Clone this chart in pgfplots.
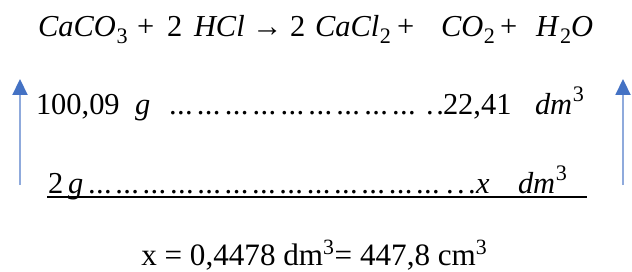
\documentclass[border=0pt]{standalone}
\usepackage{pgfplots}
\pgfplotsset{compat=1.18}
\usetikzlibrary{arrows.meta}
\usepackage{fontspec}
\setmainfont{Liberation Serif}
\definecolor{lineblue}{RGB}{143,170,220}
\definecolor{headblue}{RGB}{68,114,196}
\newlength\pxu \setlength\pxu{0.01in}
\newcommand\eqf{\fontsize{22}{26}\selectfont}
\newcommand\resf{\fontsize{22.5}{26}\selectfont}
\newcommand\grp{.\kern0.3pt.\kern0.3pt.}
\newcommand\chsub[1]{\kern0.5pt\raisebox{-5pt}{\fontsize{16}{16}\selectfont #1}}
\newcommand\chsup[1]{\kern0.5pt\raisebox{9pt}{\fontsize{16}{16}\selectfont #1}}
\tikzset{t/.style={inner sep=0pt,outer sep=0pt,anchor=base west,font=\eqf}}
\begin{document}
\begin{tikzpicture}
\begin{axis}[width=6.32in,height=2.72in,scale only axis,hide axis,
  xmin=0,xmax=632,ymin=0,ymax=272,y dir=reverse,clip=false]
% frame that fixes the picture's extent (invisible)
\addplot[draw=none,forget plot] coordinates {(0,0) (632,0) (632,272) (0,272) (0,0)};
% arrows
\addplot[draw=lineblue,line width=1.5pt,-{Triangle[length=11.5pt,width=10.8pt,color=headblue]}]
  coordinates {(20,185) (20,79)};
\addplot[draw=lineblue,line width=1.5pt,-{Triangle[length=11.5pt,width=10.8pt,color=headblue]}]
  coordinates {(623,185) (623,79)};
% underline
\addplot[black,line width=1.4pt] coordinates {(47,197) (587,197)};
% line 1
\node[t] at (axis cs:38,37) {\textit{CaCO}\chsub{3}};
\node[t] at (axis cs:137,37) {+};
\node[t] at (axis cs:167,37) {2};
\node[t] at (axis cs:194,37) {\textit{HCl}};
\node[t] at (axis cs:252,37) {→};
\node[t] at (axis cs:290,37) {2};
\node[t] at (axis cs:315,37) {\textit{CaCl}\chsub{2}};
\node[t] at (axis cs:397,37) {+};
\node[t] at (axis cs:441,37) {\textit{CO}\chsub{2}};
\node[t] at (axis cs:500,37) {+};
\node[t] at (axis cs:536,37) {\textit{H}\chsub{2}\textit{O}};
% line 2
\node[t] at (axis cs:36,114) {100,09};
\node[t] at (axis cs:135,114) {\textit{g}};
\node[t] at (axis cs:169,114) {\hbox to 247\pxu{\grp\hfill\grp\hfill\grp\hfill\grp\hfill\grp\hfill\grp\hfill\grp\hfill\grp\hfill\grp}};
\node[t] at (axis cs:426,114) {.\kern2pt.};
\node[t] at (axis cs:443,114) {22,41};
\node[t] at (axis cs:535,114) {\textit{dm}\chsup{3}};
% line 3
\node[t] at (axis cs:48,193) {2};
\node[t] at (axis cs:68,193) {\textit{g}};
\node[t] at (axis cs:88,193) {\hbox to 352\pxu{\grp\hfill\grp\hfill\grp\hfill\grp\hfill\grp\hfill\grp\hfill\grp\hfill\grp\hfill\grp\hfill\grp\hfill\grp\hfill\grp\hfill\grp}};
\node[t] at (axis cs:446,193) {.\kern2.5pt.\kern2.5pt.};
\node[t] at (axis cs:476,193) {\textit{x}};
\node[t] at (axis cs:518,193) {\textit{dm}\chsup{3}};
% line 4
\node[inner sep=0pt,anchor=base west,font=\resf] at (axis cs:141,265) {\smash{x = 0,4478 dm\textsuperscript{3}= 447,8 cm\textsuperscript{3}}};
\end{axis}
\end{tikzpicture}
\end{document}
